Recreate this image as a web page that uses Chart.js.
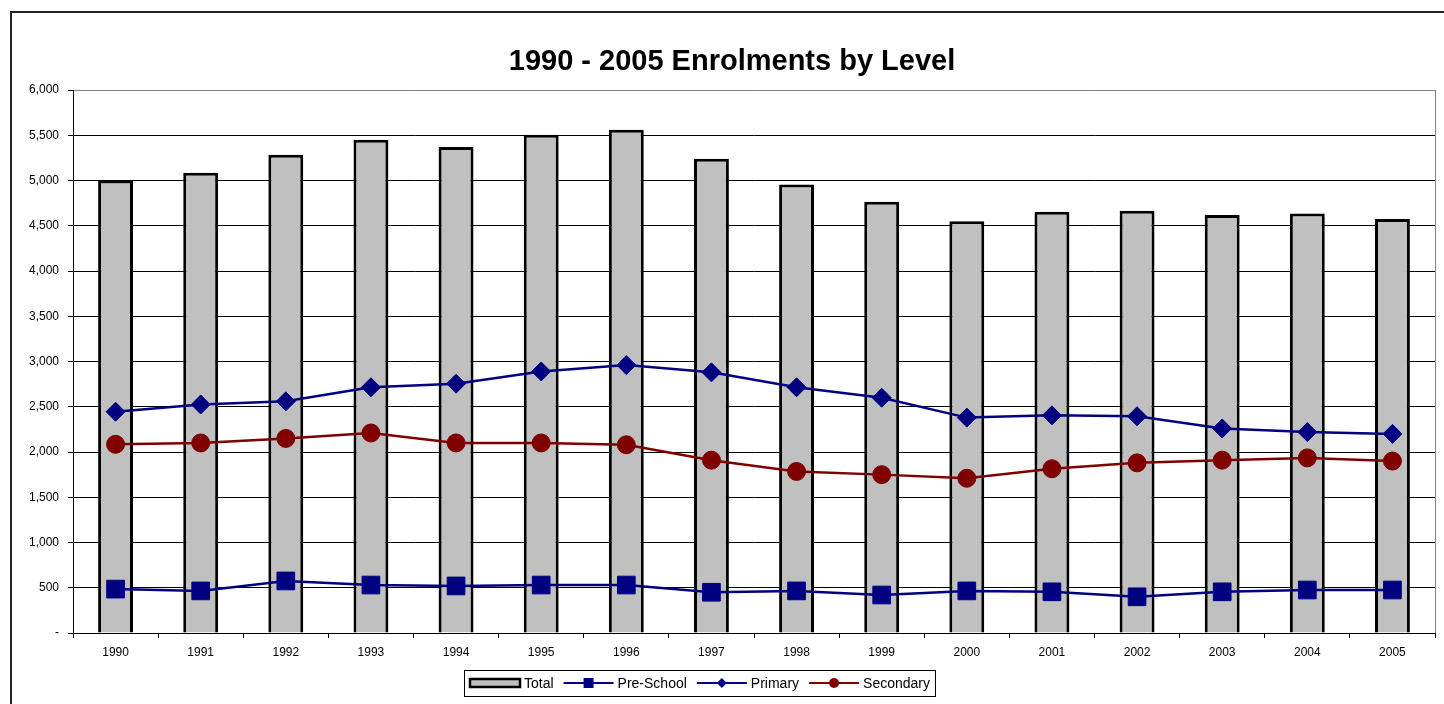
<!DOCTYPE html>
<html>
<head>
<meta charset="utf-8">
<title>1990 - 2005 Enrolments by Level</title>
<script src="https://cdn.jsdelivr.net/npm/chart.js@4.4.1/dist/chart.umd.min.js"></script>
<style>
  html, body { margin: 0; padding: 0; background: #fff; }
  #wrap { width: 1444px; height: 704px; }
</style>
</head>
<body>
<div id="wrap"><canvas id="enrolChart" width="1444" height="704"></canvas></div>
<script>
// Enrolments by level, 1990 - 2005
const chartTitle = '1990 - 2005 Enrolments by Level';
const years = ['1990', '1991', '1992', '1993', '1994', '1995', '1996', '1997',
               '1998', '1999', '2000', '2001', '2002', '2003', '2004', '2005'];
const totalEnrol = [5000, 5085, 5285, 5450, 5370, 5505, 5560, 5240, 4955, 4765, 4550, 4655, 4665, 4620, 4635, 4575];
const preSchool  = [485, 465, 575, 530, 520, 530, 530, 450, 465, 420, 465, 455, 400, 455, 475, 475];
const primary    = [2445, 2525, 2560, 2715, 2755, 2890, 2960, 2880, 2715, 2600, 2380, 2405, 2395, 2260, 2220, 2200];
const secondary  = [2085, 2100, 2150, 2210, 2100, 2100, 2080, 1910, 1785, 1750, 1710, 1815, 1880, 1910, 1935, 1900];

const NAVY = '#000080';
const MAROON = '#800000';
const FONT = 'Arial, "Liberation Sans", sans-serif';

Chart.defaults.font.family = FONT;
Chart.defaults.font.size = 12;
Chart.defaults.color = '#000';

// draw a small legend marker
function drawMarker(ctx, style, x, y, r, color) {
    ctx.fillStyle = color;
    ctx.beginPath();
    if (style === 'rect') {
        ctx.rect(x - r, y - r, 2 * r, 2 * r);
    } else if (style === 'rectRot') {
        ctx.moveTo(x - r, y); ctx.lineTo(x, y - r); ctx.lineTo(x + r, y); ctx.lineTo(x, y + r);
        ctx.closePath();
    } else {
        ctx.arc(x, y, r, 0, Math.PI * 2);
    }
    ctx.fill();
}

// frame, title, plot border and legend
const chartDecor = {
    id: 'chartDecor',
    beforeDraw(chart) {
        const ctx = chart.ctx;
        ctx.save();
        ctx.fillStyle = '#fff';
        ctx.fillRect(0, 0, chart.width, chart.height);
        ctx.strokeStyle = '#222';
        ctx.lineWidth = 2;
        ctx.beginPath();
        ctx.moveTo(11, chart.height);
        ctx.lineTo(11, 12);
        ctx.lineTo(chart.width, 12);
        ctx.stroke();
        ctx.restore();
    },
    afterDraw(chart) {
        const ctx = chart.ctx;
        const a = chart.chartArea;
        ctx.save();
        ctx.strokeStyle = '#808080';
        ctx.lineWidth = 1;
        ctx.beginPath();
        ctx.moveTo(Math.round(a.right) + 0.5, a.top);
        ctx.lineTo(Math.round(a.right) + 0.5, a.bottom);
        ctx.stroke();

        ctx.fillStyle = '#000';
        ctx.font = 'bold 29px ' + FONT;
        ctx.textAlign = 'center';
        ctx.textBaseline = 'middle';
        ctx.fillText(chartTitle, 732, 62);

        // legend
        ctx.font = '14px ' + FONT;
        ctx.textAlign = 'left';
        const symW = 50, gapT = 4, gapItem = 10;
        const items = chart.data.datasets.map(ds => ({ ds, w: ctx.measureText(ds.label).width }));
        const totalW = items.reduce((s, it) => s + symW + gapT + it.w, 0) + gapItem * (items.length - 1);
        const left = Math.round(700 - totalW / 2);
        const cy = 683;
        ctx.strokeStyle = '#000';
        ctx.lineWidth = 1;
        ctx.strokeRect(left - 5.5, 670.5, totalW + 11, 26);
        let x = left;
        items.forEach(it => {
            const ds = it.ds;
            if (ds.type === 'bar') {
                ctx.fillStyle = ds.backgroundColor;
                ctx.fillRect(x, cy - 4, symW, 8);
                ctx.lineWidth = 2.5;
                ctx.strokeStyle = ds.borderColor;
                ctx.strokeRect(x, cy - 4, symW, 8);
            } else {
                ctx.lineWidth = 2;
                ctx.strokeStyle = ds.borderColor;
                ctx.beginPath();
                ctx.moveTo(x, cy);
                ctx.lineTo(x + symW, cy);
                ctx.stroke();
                drawMarker(ctx, ds.pointStyle, x + symW / 2, cy, 5, ds.borderColor);
            }
            x += symW + gapT;
            ctx.fillStyle = '#000';
            ctx.fillText(ds.label, x, cy + 1);
            x += it.w + gapItem;
        });
        ctx.restore();
    }
};

const ctx = document.getElementById('enrolChart').getContext('2d');
new Chart(ctx, {
    data: {
        labels: years,
        datasets: [
            {
                type: 'bar',
                label: 'Total',
                data: totalEnrol,
                backgroundColor: '#c0c0c0',
                borderColor: '#000',
                borderWidth: 3,
                barPercentage: 0.41,
                categoryPercentage: 1,
                order: 10
            },
            {
                type: 'line',
                label: 'Pre-School',
                data: preSchool,
                borderColor: NAVY,
                backgroundColor: NAVY,
                borderWidth: 2.5,
                pointStyle: 'rect',
                pointRadius: 12.5,
                pointBorderWidth: 1,
                tension: 0,
                order: 1
            },
            {
                type: 'line',
                label: 'Primary',
                data: primary,
                borderColor: NAVY,
                backgroundColor: NAVY,
                borderWidth: 2.5,
                pointStyle: 'rectRot',
                pointRadius: 9.5,
                pointBorderWidth: 1,
                tension: 0,
                order: 1
            },
            {
                type: 'line',
                label: 'Secondary',
                data: secondary,
                borderColor: MAROON,
                backgroundColor: MAROON,
                borderWidth: 2.5,
                pointStyle: 'circle',
                pointRadius: 9,
                pointBorderWidth: 1,
                tension: 0,
                order: 1
            }
        ]
    },
    options: {
        responsive: false,
        animation: false,
        layout: {
            autoPadding: false,
            padding: { left: 10, right: 9, top: 90, bottom: 41 }
        },
        scales: {
            x: {
                offset: true,
                afterFit(scale) {
                    scale.height = 30;
                    scale.paddingLeft = 0;
                    scale.paddingRight = 0;
                },
                grid: {
                    display: true,
                    drawOnChartArea: false,
                    offset: true,
                    tickLength: 5,
                    tickColor: '#000'
                },
                border: { color: '#000', width: 1 },
                ticks: { padding: 7, font: { size: 12 }, color: '#000', maxRotation: 0 }
            },
            y: {
                min: 0,
                max: 6000,
                afterFit(scale) { scale.width = 63; },
                grid: {
                    color: c => (c.tick && c.tick.value === 6000 ? '#808080' : '#000'),
                    lineWidth: 1,
                    tickLength: 5,
                    tickColor: '#000'
                },
                border: { color: '#000', width: 1 },
                ticks: {
                    stepSize: 500,
                    padding: 9,
                    font: { size: 12 },
                    color: '#000',
                    callback: v => (v === 0 ? '-' : v.toLocaleString('en-US'))
                }
            }
        },
        plugins: {
            legend: { display: false },
            title: { display: false },
            tooltip: { enabled: false }
        }
    },
    plugins: [chartDecor]
});
</script>
</body>
</html>
